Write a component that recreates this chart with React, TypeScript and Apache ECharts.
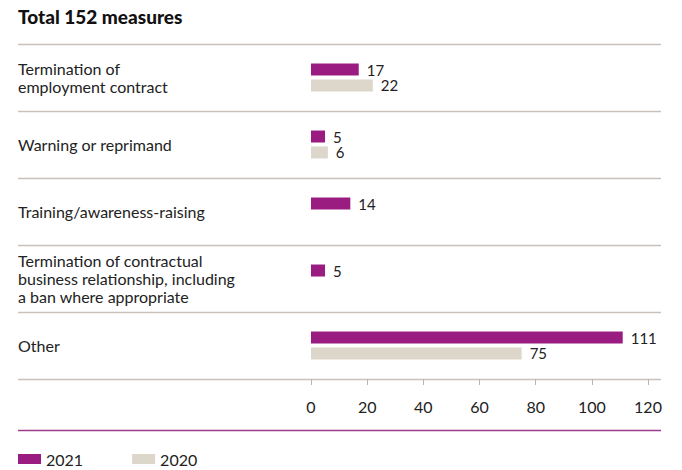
import React, { useEffect, useRef } from "react";
import * as echarts from "echarts";

const categories = [
  "Termination of\nemployment contract",
  "Warning or reprimand",
  "Training/awareness-raising",
  "Termination of contractual\nbusiness relationship, including\na ban where appropriate",
  "Other",
];
const values2021 = [17, 5, 14, 5, 111];
const values2020: (number | null)[] = [22, 6, null, null, 75];
const seriesNames = ["2021", "2020"];
const title = "Total 152 measures";

const FONT = "Lato";
const PURPLE = "#9A1C80";
const BEIGE = "#DDD6CA";
const SEP = "#C9C1BA";

export default function App() {
  const ref = useRef<HTMLDivElement>(null);
  useEffect(() => {
    if (!ref.current) return;
    const chart = echarts.init(ref.current, undefined, { renderer: "svg" });
    const W = 682;
    const gridTop = 44;
    const gridBottom = 379;
    const gridLeft = 311;
    const gridRight = 648;
    const band = (gridBottom - gridTop) / categories.length;
    const seps: any[] = [];
    for (let i = 0; i <= categories.length; i++) {
      const y = Math.round(gridTop + i * band) + 0.5;
      seps.push({
        type: "line",
        shape: { x1: 18, y1: y, x2: 661, y2: y },
        style: { stroke: SEP, lineWidth: 1.5 },
        silent: true,
      });
    }
    const valueLabel = {
      show: true,
      position: "right",
      distance: 8,
      fontFamily: FONT,
      fontSize: 15,
      lineHeight: 14,
      color: "#222",
    };
    chart.setOption({
      animation: false,
      textStyle: { fontFamily: FONT },
      grid: {
        left: gridLeft,
        right: W - gridRight,
        top: gridTop,
        bottom: 470 - gridBottom,
      },
      legend: {
        left: 18,
        top: 451,
        padding: 0,
        itemWidth: 23,
        itemHeight: 10,
        itemGap: 49,
        icon: "rect",
        textStyle: { fontFamily: FONT, fontSize: 16, color: "#222" },
        data: seriesNames,
      },
      xAxis: {
        type: "value",
        min: 0,
        max: 120,
        interval: 20,
        axisLine: { show: false },
        axisTick: { show: true, length: 6, lineStyle: { color: "#BDB6AF" } },
        splitLine: { show: false },
        axisLabel: {
          fontFamily: FONT,
          fontSize: 16,
          color: "#222",
          margin: 19,
        },
      },
      yAxis: {
        type: "category",
        inverse: true,
        data: categories,
        axisLine: { show: false },
        axisTick: { show: false },
        splitLine: { show: false },
        axisLabel: {
          align: "left",
          margin: gridLeft - 18,
          fontFamily: FONT,
          fontSize: 16,
          lineHeight: 18,
          color: "#222",
        },
      },
      series: [
        {
          name: seriesNames[0],
          type: "bar",
          data: values2021,
          barWidth: 12,
          barGap: "33%",
          itemStyle: { color: PURPLE },
          label: valueLabel,
        },
        {
          name: seriesNames[1],
          type: "bar",
          data: values2020,
          barWidth: 12,
          itemStyle: { color: BEIGE },
          label: valueLabel,
        },
      ],
      graphic: [
        {
          type: "text",
          left: 18,
          top: 7,
          style: {
            text: title,
            fontFamily: FONT,
            fontWeight: 900,
            fontSize: 19,
            fill: "#111",
          },
        },
        ...seps,
        {
          type: "line",
          shape: { x1: 18, y1: 430.5, x2: 661, y2: 430.5 },
          style: { stroke: "#9C3E8C", lineWidth: 1.5 },
          silent: true,
        },
      ],
    });
    return () => chart.dispose();
  }, []);
  return <div ref={ref} style={{ width: 682, height: 470, position: "absolute", left: 0, top: 0 }} />;
}
